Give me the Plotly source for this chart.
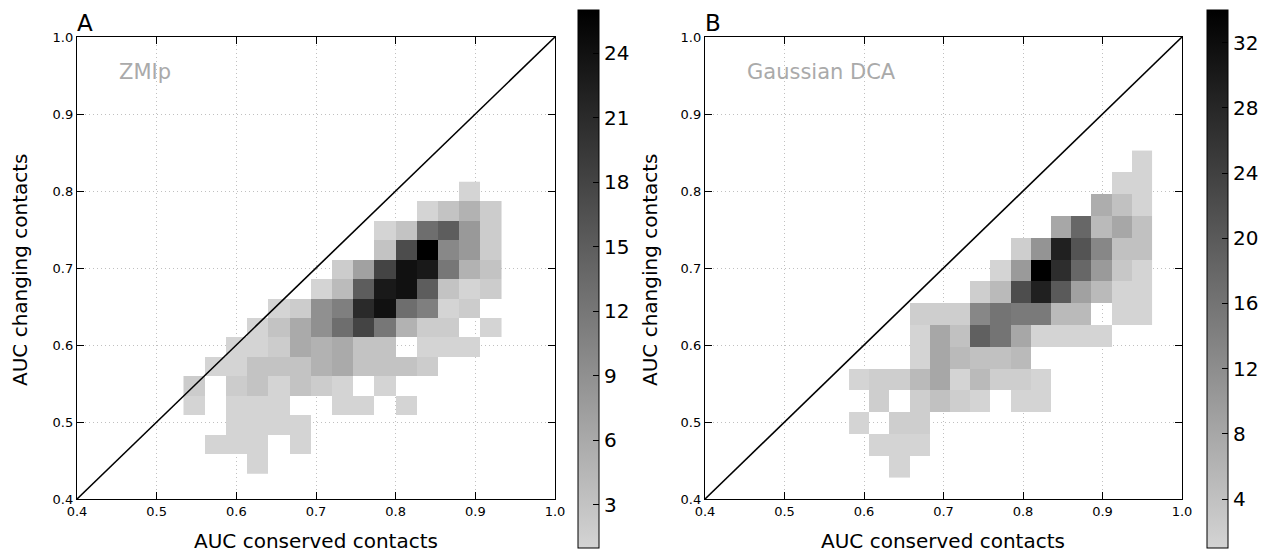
import plotly.graph_objects as go

# ---------------- data ----------------
# Panel A (ZMIp): counts, rows listed from top (high y) to bottom, 15 columns left->right
A_counts_top_down = [
    [0,0,0,0,0,0,0,0,0,0,0,0,0,1,0],
    [0,0,0,0,0,0,0,0,0,0,0,1,3,5,2],
    [0,0,0,0,0,0,0,0,0,1,3,13,15,8,2],
    [0,0,0,0,0,0,0,0,0,3,17,26,10,8,2],
    [0,0,0,0,0,0,0,2,7,18,24,23,12,5,3],
    [0,0,0,0,0,0,1,4,15,23,24,15,3,1,2],
    [0,0,0,0,1,2,9,11,21,24,13,11,1,2,0],
    [0,0,0,1,3,6,9,13,18,12,5,2,2,0,1],
    [0,0,1,1,2,6,5,6,3,3,0,1,1,1,0],
    [0,1,1,3,3,3,5,6,3,3,3,2,0,0,0],
    [2,0,2,3,1,3,2,1,0,1,0,0,0,0,0],
    [1,0,1,1,1,0,0,1,1,0,1,0,0,0,0],
    [0,0,1,1,1,1,0,0,0,0,0,0,0,0,0],
    [0,1,1,1,0,1,0,0,0,0,0,0,0,0,0],
    [0,0,0,1,0,0,0,0,0,0,0,0,0,0,0],
]
A_x_start, A_dx = 0.5337, 0.02657
A_y_start, A_dy = 0.4328, 0.02528
A_cmax = 26
A_cticks = [3, 6, 9, 12, 15, 18, 21, 24]

# Panel B (Gaussian DCA)
B_counts_top_down = [
    [0,0,0,0,0,0,0,0,0,0,0,0,0,0,1],
    [0,0,0,0,0,0,0,0,0,0,0,0,0,1,1],
    [0,0,0,0,0,0,0,0,0,0,0,0,7,4,1],
    [0,0,0,0,0,0,0,0,0,0,8,18,5,8,4],
    [0,0,0,0,0,0,0,0,2,11,29,21,13,4,4],
    [0,0,0,0,0,0,0,1,10,34,27,18,10,3,1],
    [0,0,0,0,0,0,2,5,22,29,20,9,5,1,1],
    [0,0,0,2,2,2,13,16,15,15,5,5,0,1,1],
    [0,0,0,1,8,4,19,16,8,1,1,1,1,0,0],
    [0,0,0,1,8,5,4,4,5,0,0,0,0,0,0],
    [1,2,2,5,8,1,5,2,2,1,0,0,0,0,0],
    [0,2,0,2,4,2,1,0,1,1,0,0,0,0,0],
    [1,0,2,2,0,0,0,0,0,0,0,0,0,0,0],
    [0,1,1,1,0,0,0,0,0,0,0,0,0,0,0],
    [0,0,1,0,0,0,0,0,0,0,0,0,0,0,0],
]
B_x_start, B_dx = 0.5812, 0.02538
B_y_start, B_dy = 0.428, 0.0283
B_cmax = 34
B_cticks = [4, 8, 12, 16, 20, 24, 28, 32]

diag = [0.4, 1.0]
axis_ticks = [0.4, 0.5, 0.6, 0.7, 0.8, 0.9, 1.0]

# ---------------- figure ----------------
OFF = 8  # page body margin
W, H = 1274 - OFF, 552 - OFF
FONT = "DejaVu Sans"
gscale = [[0, "rgb(212,212,212)"], [1, "rgb(0,0,0)"]]


def prep(rows):
    z = [[(v if v > 0 else None) for v in r] for r in rows]
    return z[::-1]


def px(xp):
    return (xp - OFF) / W


def py(yp):
    return 1 - (yp - OFF) / H


fig = go.Figure()

panels = [
    dict(z=A_counts_top_down, xs=A_x_start, dx=A_dx, ys=A_y_start, dy=A_dy,
         cmax=A_cmax, cticks=A_cticks, xa="x", ya="y", cbx=578),
    dict(z=B_counts_top_down, xs=B_x_start, dx=B_dx, ys=B_y_start, dy=B_dy,
         cmax=B_cmax, cticks=B_cticks, xa="x2", ya="y2", cbx=1207),
]

for p in panels:
    fig.add_trace(go.Heatmap(
        z=prep(p["z"]), x0=p["xs"] + p["dx"] / 2, dx=p["dx"],
        y0=p["ys"] + p["dy"] / 2, dy=p["dy"],
        zmin=1, zmax=p["cmax"], colorscale=gscale, xaxis=p["xa"], yaxis=p["ya"],
        hoverongaps=False,
        colorbar=dict(x=px(p["cbx"]), xanchor="left", xpad=0, ypad=0,
                      y=py(279), yanchor="middle", len=(548 - 10) / H,
                      thickness=21, outlinewidth=1, outlinecolor="black",
                      tickvals=p["cticks"], ticks="inside", ticklen=6,
                      tickcolor="black", tickfont=dict(family=FONT, size=20, color="black")),
    ))
    fig.add_trace(go.Scatter(x=diag, y=diag, mode="lines", xaxis=p["xa"], yaxis=p["ya"],
                             line=dict(color="black", width=1.6), showlegend=False,
                             hoverinfo="skip"))

ax_common = dict(range=[0.4, 1.0], tickvals=axis_ticks, tickformat=".1f",
                 ticks="inside", ticklen=7, tickcolor="black", mirror="allticks",
                 showline=True, linecolor="black", linewidth=1.3,
                 showgrid=True, gridcolor="#c0c0c0", griddash="1px,3px", gridwidth=1,
                 zeroline=False, tickfont=dict(family=FONT, size=13, color="black"),
                 fixedrange=True, automargin=False)

yd = [py(499), py(37)]
fig.update_layout(
    width=W, height=H, margin=dict(l=0, r=0, t=0, b=0, autoexpand=False),
    paper_bgcolor="white", plot_bgcolor="white", showlegend=False,
    font=dict(family=FONT, color="black"),
    xaxis=dict(domain=[px(77), px(555)], anchor="y", **ax_common),
    yaxis=dict(domain=yd, anchor="x", **ax_common),
    xaxis2=dict(domain=[px(705), px(1182)], anchor="y2", **ax_common),
    yaxis2=dict(domain=yd, anchor="x2", **ax_common),
)

ann = []
for lab, xl, name, xr, yr, ycen, xcen in [
    ("A", 77, "ZMIp", "x", "y", 20, 316),
    ("B", 705, "Gaussian DCA", "x2", "y2", 650, 943),
]:
    ann.append(dict(text=lab, xref="paper", yref="paper", x=px(xl - 2), y=py(OFF),
                    xanchor="left", yanchor="top", showarrow=False,
                    font=dict(family=FONT, size=23, color="black")))
    ann.append(dict(text=name, xref=xr, yref=yr, x=0.45, y=0.955,
                    xanchor="left", yanchor="middle", showarrow=False,
                    font=dict(family=FONT, size=21, color="#aaaaaa")))
    ann.append(dict(text="AUC changing contacts", xref="paper", yref="paper",
                    x=px(ycen), y=py(270), textangle=-90, showarrow=False,
                    xanchor="center", yanchor="middle",
                    font=dict(family=FONT, size=20, color="black")))
    ann.append(dict(text="AUC conserved contacts", xref="paper", yref="paper",
                    x=px(xcen), y=py(541), showarrow=False,
                    xanchor="center", yanchor="middle",
                    font=dict(family=FONT, size=20, color="black")))
fig.update_layout(annotations=ann)

fig.write_html("out.html")
